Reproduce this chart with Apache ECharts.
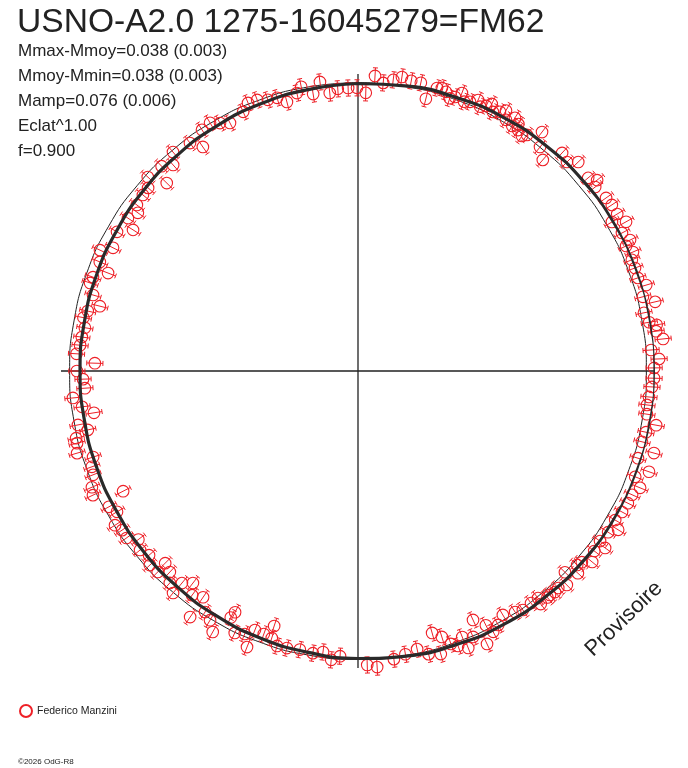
<!DOCTYPE html>
<html><head><meta charset="utf-8">
<script src="https://cdn.jsdelivr.net/npm/echarts@6/dist/echarts.min.js"></script>
<style>html,body{margin:0;padding:0;background:#fff}#c{width:688px;height:768px}</style>
</head><body><div id="c"></div>
<script>
const titleText = 'USNO-A2.0 1275-16045279=FM62';
const statLines = ['Mmax-Mmoy=0.038 (0.003)', 'Mmoy-Mmin=0.038 (0.003)', 'Mamp=0.076 (0.006)', 'Eclat^1.00', 'f=0.900'];
const observer = 'Federico Manzini';
const watermark = 'Provisoire';
const copyright = '©2026 OdG-R8';

// observations: phase angle (deg, clockwise from top) and scaled radius (reference circle = 100)
const phaseDeg = [
  348.7,350.8,352.5,354.2,355.9,358.0,359.8,1.6,3.3,5.0,6.9,8.5,10.4,12.3,14.0,15.6,
  17.5,19.5,20.5,22.6,23.9,25.8,27.5,28.7,30.5,31.8,32.2,33.6,34.9,35.6,37.6,39.1,
  41.2,43.1,45.0,46.5,50.0,51.4,52.2,55.1,56.8,58.8,59.6,60.9,62.4,64.3,65.0,66.6,
  67.9,69.6,71.6,73.4,75.4,76.9,78.5,82.4,84.0,85.9,87.7,89.4,91.4,93.1,95.1,96.7,
  98.5,100.3,102.0,104.0,105.5,107.3,109.1,110.9,112.5,114.3,116.1,118.1,120.1,121.4,122.8,125.1,
  125.6,127.3,129.2,130.5,131.5,132.6,134.2,135.7,137.3,138.3,139.4,140.1,141.6,141.9,143.3,145.4,
  146.9,149.3,151.1,152.6,153.3,154.7,155.2,156.6,158.3,158.6,160.0,161.2,162.5,163.7,164.2,168.0,
  172.9,176.3,178.2,183.6,187.1,189.1,194.4,196.4,197.9,198.2,199.7,201.7,201.9,203.3,205.2,207.0,
  207.3,209.1,210.7,212.4,214.3,214.4,216.5,217.9,219.7,219.8,221.6,223.1,224.9,225.1,227.0,228.6,
  230.6,236.0,237.6,239.7,241.4,242.9,244.9,246.4,248.6,250.2,252.0,253.7,255.6,256.6,257.7,259.1,
  261.0,262.6,264.6,266.4,268.3,270.0,271.7,275.3,277.0,279.0,284.1,286.0,288.2,289.5,291.4,292.9,
  295.1,296.7,300.0,302.1,303.6,305.7,306.9,309.3,311.1,312.7,314.5,318.1,319.8,323.6,325.3,327.1,
  329.2,330.9,332.7,336.1,337.7,339.6,341.6,343.5,345.2,347.6,
  16.5,18.6,21.5,24.8,26.6,29.6,33.0,80.5,81.2,273.5,281.0,282.5,316.2,166.0,170.5,185.3,
  191.8,232.5,234.2
];
const radius = [
  100.5,97.3,101.1,96.9,98.1,98.2,98.2,96.5,102.5,100.3,101.7,103.1,102.3,102.3,97.3,101.9,
  101.5,100.8,102.9,101.1,102.8,102.1,101.3,102.5,101.1,103.3,100.4,100.3,99.4,100.7,104.6,100.1,
  97.3,103.6,102.5,105.3,104.2,106.1,104.1,104.9,105.2,105.1,102.1,106.4,103.3,104.7,102.6,103.9,
  102.5,102.5,102.3,104.3,102.1,105.8,101.2,104.3,106.4,101.9,104.5,102.7,102.7,102.1,101.3,100.9,
  101.3,105.1,102.1,101.5,106.5,101.7,106.8,102.9,105.9,104.3,104.2,103.8,103.1,105.7,103.2,102.6,
  105.4,103.0,104.8,102.1,101.5,103.6,100.1,103.7,102.4,102.7,102.3,102.4,100.5,102.7,100.4,100.7,
  99.8,98.4,100.6,101.9,98.7,104.7,95.1,100.5,103.4,99.1,101.5,100.0,96.7,102.3,94.4,98.6,
  100.7,102.9,102.0,99.1,98.2,99.1,99.2,99.4,97.3,93.1,96.9,96.7,103.2,99.3,100.4,93.9,
  96.2,103.6,100.5,99.0,103.3,95.1,96.7,93.2,95.6,100.2,98.3,95.5,98.4,94.4,98.7,96.6,
  97.8,98.7,99.8,96.8,98.4,91.5,101.5,100.7,98.7,98.1,96.6,101.5,100.6,100.5,95.9,98.9,
  92.7,96.5,99.3,94.9,95.4,97.5,91.3,96.8,96.5,95.9,92.3,95.6,97.8,97.5,93.1,97.2,
  98.8,95.1,96.5,92.1,95.8,94.0,95.9,96.4,96.6,99.2,93.0,96.0,99.4,98.2,94.5,99.6,
  100.2,98.4,96.8,98.3,100.5,100.3,99.1,98.8,96.5,98.7,
  102.4,99.8,100.4,101.0,103.6,103.9,102.1,102.4,104.8,97.8,97.0,96.0,98.4,101.2,99.6,100.6,
  98.7,96.0,99.0
];
const errHalf = 2.8;

// fitted light curve (thick line) and reference circle
const fitPhase = [0,10,20,30,40,50,60,70,80,90,100,110,120,130,140,150,160,170,180,190,200,210,220,230,240,250,260,270,280,290,300,310,320,330,340,350,360];
const fitRadius = [99.7,100.3,100.8,101.4,101.8,102.2,102.6,102.8,102.9,103.0,102.9,102.8,102.6,102.2,101.8,101.4,100.8,100.3,99.7,99.1,98.6,98.1,97.6,97.2,96.8,96.6,96.4,96.4,96.4,96.6,96.8,97.2,97.6,98.1,98.6,99.1,99.7];
const refRadius = 100;

const RED = '#ee2027';
const INK = '#222222';
const FONT = '"Liberation Sans", Arial, sans-serif';

const chart = echarts.init(document.getElementById('c'), null, {width: 688, height: 768});

function renderPoint(params, api) {
  const r = api.value(0), a = api.value(1);
  const c = api.coord([r, a]);
  const p1 = api.coord([r - errHalf, a]);
  const p2 = api.coord([r + errHalf, a]);
  const dx = p2[0] - p1[0], dy = p2[1] - p1[1];
  const L = Math.hypot(dx, dy) || 1;
  const nx = -dy / L * 2.5, ny = dx / L * 2.5;
  const ls = {stroke: RED, lineWidth: 1, fill: null};
  return {
    type: 'group',
    children: [
      {type: 'circle', shape: {cx: c[0], cy: c[1], r: 5.8}, style: {stroke: RED, fill: 'none', lineWidth: 1.1}},
      {type: 'line', shape: {x1: p1[0], y1: p1[1], x2: p2[0], y2: p2[1]}, style: ls},
      {type: 'line', shape: {x1: p1[0] - nx, y1: p1[1] - ny, x2: p1[0] + nx, y2: p1[1] + ny}, style: ls},
      {type: 'line', shape: {x1: p2[0] - nx, y1: p2[1] - ny, x2: p2[0] + nx, y2: p2[1] + ny}, style: ls}
    ]
  };
}

const graphics = [
  {type: 'text', x: 17, y: 23, style: {text: titleText, fontSize: 33.6, fontFamily: FONT, fill: INK, verticalAlign: 'middle'}}
];
statLines.forEach((t, i) => {
  graphics.push({type: 'text', x: 18, y: 51 + 25 * i, style: {text: t, fontSize: 17, fontFamily: FONT, fill: INK, verticalAlign: 'middle'}});
});
graphics.push({type: 'text', x: 624, y: 619, rotation: 44 * Math.PI / 180, style: {text: watermark, fontSize: 22, fontFamily: FONT, fill: INK, align: 'center', verticalAlign: 'middle'}});
graphics.push({type: 'text', x: 18, y: 762, style: {text: copyright, fontSize: 8, fontFamily: FONT, fill: INK, verticalAlign: 'middle'}});

chart.setOption({
  animation: false,
  backgroundColor: '#ffffff',
  polar: {center: [358, 371], radius: 297},
  angleAxis: {
    type: 'value', min: 0, max: 360, interval: 90, startAngle: 90, clockwise: true,
    axisLine: {show: false}, axisTick: {show: false}, axisLabel: {show: false},
    splitLine: {show: true, lineStyle: {color: INK, width: 1.3}}
  },
  radiusAxis: {
    type: 'value', min: 0, max: 103,
    axisLine: {show: false}, axisTick: {show: false}, axisLabel: {show: false}, splitLine: {show: false}
  },
  legend: {
    data: [{name: observer, icon: 'emptyCircle'}],
    left: 14, top: 699, itemWidth: 12, itemHeight: 12, selectedMode: false,
    textStyle: {fontSize: 10.5, color: INK, fontFamily: FONT}
  },
  graphic: graphics,
  series: [
    {
      type: 'line', coordinateSystem: 'polar', clip: false, silent: true, z: 2,
      data: fitPhase.map(a => [refRadius, a]), smooth: true, symbol: 'none',
      lineStyle: {color: INK, width: 1}
    },
    {
      name: observer, type: 'custom', coordinateSystem: 'polar', clip: false, z: 3,
      itemStyle: {color: RED},
      data: phaseDeg.map((a, i) => [radius[i], a]),
      renderItem: renderPoint
    },
    {
      type: 'line', coordinateSystem: 'polar', clip: false, silent: true, z: 4,
      data: fitPhase.map((a, i) => [fitRadius[i], a]), smooth: true, symbol: 'none',
      lineStyle: {color: '#2a2a2a', width: 3.2}
    }
  ]
});
</script></body></html>
